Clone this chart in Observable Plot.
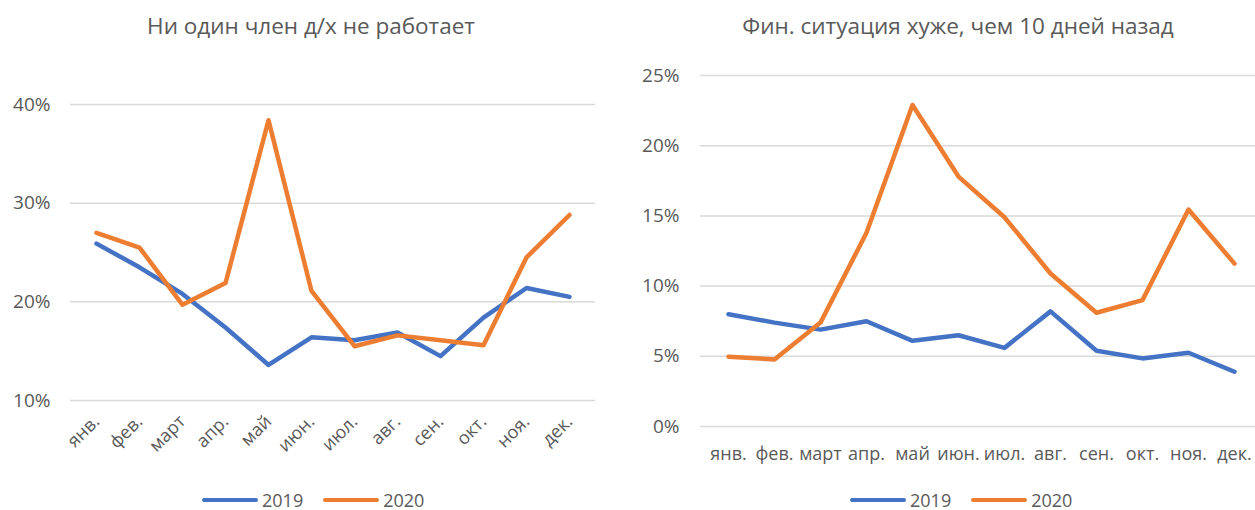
<!DOCTYPE html>
<html>
<head>
<meta charset="utf-8">
<script src="https://cdn.jsdelivr.net/npm/d3@7"></script>
<script src="https://cdn.jsdelivr.net/npm/@observablehq/plot@0.6"></script>
<style>
  html, body { margin:0; padding:0; background:#fff; overflow:hidden; width:1255px; height:510px; }
  body { position:relative; font-family:"Open Sans", sans-serif; color:#595959; }
  .title { position:absolute; top:10px; font-size:22.5px; white-space:nowrap; transform:translateX(-50%); color:#595959; }
  .chart { position:absolute; }
  .legend { position:absolute; display:flex; align-items:center; font-size:18px; line-height:16px; height:16px; color:#595959; white-space:nowrap; width:260px; }
  .sw { display:inline-block; width:56px; height:4.5px; border-radius:2.5px; margin-right:4px; flex-shrink:0; }
  .item { display:flex; align-items:center; margin-right:20px; flex-shrink:0; }
</style>
</head>
<body>
<div id="t1" class="title" style="left:311px"></div>
<div id="t2" class="title" style="left:958px"></div>
<div id="c1" class="chart" style="left:0px; top:60px; width:620px;"></div>
<div id="c2" class="chart" style="left:620px; top:60px; width:645px;"></div>
<div id="l1" class="legend" style="left:202px; top:492px"></div>
<div id="l2" class="legend" style="left:850px; top:492px"></div>
<script>
const months = ["янв.","фев.","март","апр.","май","июн.","июл.","авг.","сен.","окт.","ноя.","дек."];
const years = ["2019","2020"];
const colors = ["#4472C4","#ED7D31"];
const title1 = "Ни один член д/х не работает";
const title2 = "Фин. ситуация хуже, чем 10 дней назад";
const noWork2019 = [25.9,23.5,20.8,17.4,13.6,16.4,16.1,16.9,14.5,18.4,21.4,20.5];
const noWork2020 = [27.0,25.5,19.7,21.9,38.4,21.1,15.5,16.6,16.1,15.6,24.5,28.8];
const finWorse2019 = [8.0,7.4,6.9,7.5,6.1,6.5,5.6,8.2,5.4,4.85,5.25,3.9];
const finWorse2020 = [4.97,4.78,7.4,13.8,22.9,17.8,14.9,10.9,8.1,9.0,15.45,11.6];
const leftTicks = [10,20,30,40];
const rightTicks = [0,5,10,15,20,25];

const toRows = (arr, year) => months.map((m,i) => ({month:m, value:arr[i], year}));
const left = [...toRows(noWork2019,"2019"), ...toRows(noWork2020,"2020")];
const right = [...toRows(finWorse2019,"2019"), ...toRows(finWorse2020,"2020")];

document.getElementById("t1").textContent = title1;
document.getElementById("t2").textContent = title2;

const style = {fontFamily:"Open Sans, sans-serif", fontSize:"18px", color:"#595959", background:"transparent", overflow:"visible", maxWidth:"none"};
const color = {domain: years, range: colors};

const chart1 = Plot.plot({
  width: 620, height: 410,
  marginLeft: 70, marginRight: 25, marginTop: 44, marginBottom: 70,
  style,
  x: {type:"point", domain: months, padding: 0.5, label: null},
  y: {domain:[10,40], label: null},
  color,
  marks: [
    Plot.ruleY(leftTicks, {stroke:"#d9d9d9", strokeWidth:1.5}),
    Plot.axisY({ticks: leftTicks, tickSize:0, tickPadding:20, tickFormat: d => d + "%", label:null, fontSize:19}),
    Plot.axisX({tickSize:0, tickPadding:18, tickRotate:-45, label:null}),
    Plot.lineY(left, {x:"month", y:"value", z:"year", stroke:"year", strokeWidth:4.5, strokeLinecap:"round", strokeLinejoin:"round"})
  ]
});
document.getElementById("c1").appendChild(chart1);

const chart2 = Plot.plot({
  width: 645, height: 420,
  marginLeft: 80, marginRight: 4, marginTop: 15, marginBottom: 54,
  style,
  x: {type:"point", domain: months, padding: 0.5, label: null},
  y: {domain:[0,25], label: null},
  color,
  marks: [
    Plot.ruleY(rightTicks, {stroke:"#d9d9d9", strokeWidth:1.5}),
    Plot.axisY({ticks: rightTicks, tickSize:0, tickPadding:21, tickFormat: d => d + "%", label:null, fontSize:19}),
    Plot.axisX({tickSize:0, tickPadding:21, label:null}),
    Plot.lineY(right, {x:"month", y:"value", z:"year", stroke:"year", strokeWidth:4.5, strokeLinecap:"round", strokeLinejoin:"round"})
  ]
});
document.getElementById("c2").appendChild(chart2);

for (const id of ["l1","l2"]) {
  const el = document.getElementById(id);
  years.forEach((y,i) => {
    const item = document.createElement("div");
    item.className = "item";
    const sw = document.createElement("span");
    sw.className = "sw";
    sw.style.background = colors[i];
    const tx = document.createElement("span");
    tx.textContent = y;
    item.appendChild(sw); item.appendChild(tx);
    el.appendChild(item);
  });
}
</script>
</body>
</html>
